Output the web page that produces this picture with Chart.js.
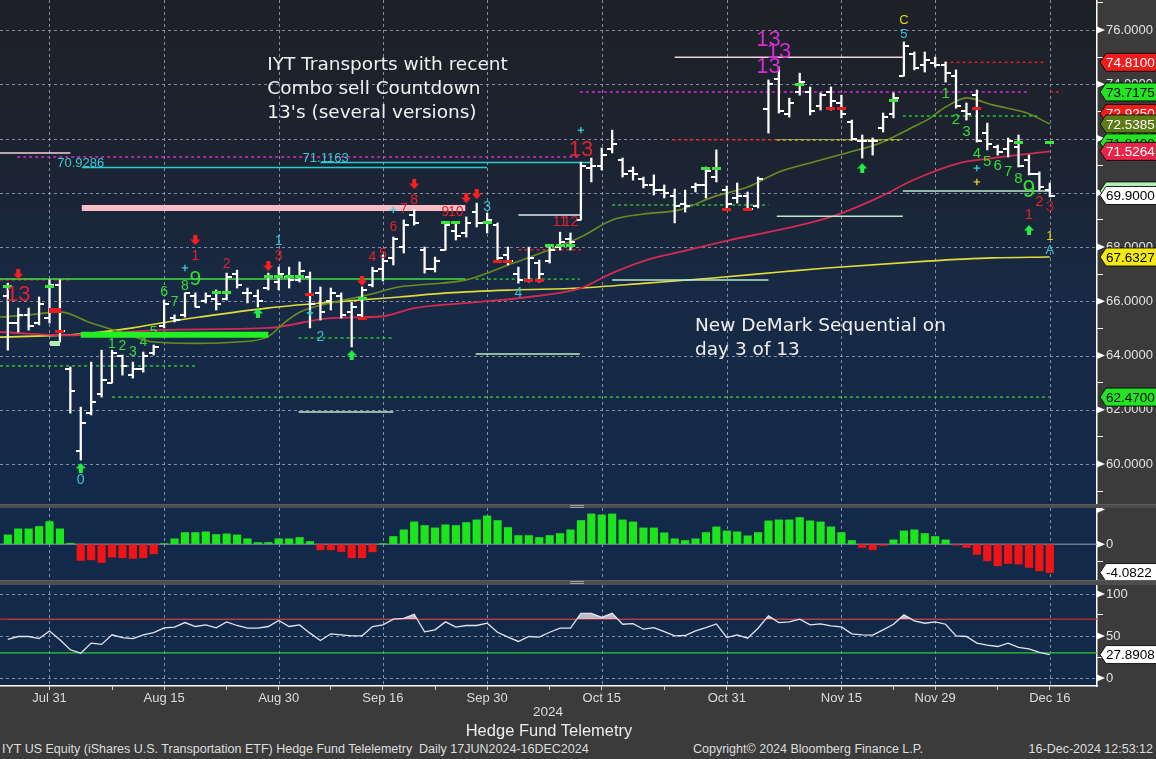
<!DOCTYPE html>
<html>
<head>
<meta charset="utf-8">
<title>IYT Transports – Hedge Fund Telemetry</title>
<script src="https://cdn.jsdelivr.net/npm/chart.js@4.4.1/dist/chart.umd.min.js"></script>
<style>
  html, body { margin:0; padding:0; width:1156px; height:759px; overflow:hidden; background:#3b3b3b; }
  canvas { position:absolute; left:0; display:block; }
  .band { position:absolute; left:0; width:1156px; background:#4d4d4d; border-top:1px solid #5c5c5c; box-sizing:border-box; }
  .grip { position:absolute; left:570px; width:14px; height:1px; background:#a0a0a0; }
  .t { position:absolute; white-space:nowrap; color:#dedede; font-family:"Liberation Sans", Arial, sans-serif; line-height:1; }
</style>
</head>
<body>
<canvas id="priceCanvas" width="1156" height="504" style="top:0"></canvas>
<div class="band" style="top:504px;height:4px"></div>
<div class="grip" style="top:505px"></div><div class="grip" style="top:507px"></div>
<canvas id="histCanvas" width="1156" height="72" style="top:508px"></canvas>
<div class="band" style="top:580px;height:5px"></div>
<div class="grip" style="top:581px"></div><div class="grip" style="top:583px"></div>
<canvas id="oscCanvas" width="1156" height="122" style="top:585px"></canvas>
<div class="t" style="left:548px;top:705px;font-size:13.5px;transform:translateX(-50%)">2024</div>
<div class="t" style="left:549px;top:722px;font-size:16.5px;transform:translateX(-50%);color:#ececec">Hedge Fund Telemetry</div>
<div class="t" style="left:2px;top:743px;font-size:12.5px">IYT US Equity (iShares U.S. Transportation ETF) Hedge Fund Telelemetry&nbsp; Daily 17JUN2024-16DEC2024</div>
<div class="t" style="left:693px;top:743px;font-size:12.5px">Copyright© 2024 Bloomberg Finance L.P.</div>
<div class="t" style="right:3px;top:743px;font-size:12.5px">16-Dec-2024 12:53:12</div>

<script>
// ---------- daily price bars, index 0 = 25 Jul 2024, index 100 = 16 Dec 2024 ----------
const openP = [66.20,65.20,65.50,65.20,65.40,66.60,63.50,60.50,61.90,62.60,
  63.00,64.00,63.30,63.50,64.10,65.10,65.40,65.50,66.20,66.00,
  66.10,66.10,67.00,66.30,66.20,66.50,66.70,66.90,66.80,66.90,
  66.30,66.00,66.20,65.60,65.50,66.60,67.20,67.60,68.00,69.20,
  67.90,67.20,67.90,68.60,68.50,69.30,68.90,68.80,67.70,67.00,
  66.80,67.40,67.50,68.00,68.30,69.00,70.90,71.00,71.60,71.20,
  70.80,70.50,70.30,70.10,69.90,69.60,70.20,70.30,70.60,70.10,
  69.80,69.90,69.50,73.10,74.20,72.90,73.70,73.70,73.20,73.70,
  73.30,72.60,71.90,71.90,72.40,72.90,74.30,75.10,74.70,74.80,
  74.70,74.30,73.00,73.60,72.20,71.70,71.60,71.70,71.20,70.70,
  70.10];
const highP = [66.67,65.75,65.75,66.16,66.79,66.79,63.58,62.10,63.76,64.20,
  64.20,64.02,63.76,64.13,64.39,66.05,65.50,66.31,66.31,66.31,
  66.42,67.04,67.15,66.49,66.42,67.04,67.26,67.26,67.45,67.08,
  66.53,66.49,66.31,65.97,66.53,67.26,67.71,68.37,69.00,69.37,
  68.00,67.63,68.89,68.89,69.11,69.62,69.25,68.89,68.00,67.26,
  68.00,67.52,68.07,68.55,68.52,71.13,71.28,71.65,72.31,71.28,
  70.95,70.58,70.66,70.29,70.14,70.10,70.36,70.95,71.58,70.25,
  70.36,70.03,70.58,74.16,74.64,73.49,74.41,73.90,73.68,73.90,
  73.60,72.68,72.13,72.02,72.94,73.68,75.56,75.19,75.19,75.00,
  74.82,74.53,73.31,73.79,72.57,71.76,72.02,72.13,71.39,70.77,
  70.36];
const lowP = [64.20,64.87,64.94,65.13,65.20,64.50,61.88,60.15,61.81,62.47,
  62.99,63.28,63.17,63.39,64.02,65.02,65.24,65.42,65.79,65.94,
  65.68,66.05,66.49,65.94,65.79,66.42,66.42,66.49,66.71,65.02,
  65.31,65.68,65.38,64.32,65.38,66.53,66.75,67.34,67.78,68.81,
  67.04,67.08,67.89,68.26,68.37,68.74,68.52,67.45,67.34,66.67,
  66.71,66.71,67.41,67.89,67.89,69.00,70.40,70.84,71.47,70.58,
  70.47,70.18,69.92,69.81,68.89,69.29,70.03,69.81,70.40,69.37,
  69.62,69.37,69.44,72.20,72.94,72.79,73.60,72.87,73.05,73.05,
  72.76,71.94,71.28,71.39,72.24,72.76,74.30,74.53,74.45,74.64,
  74.08,73.12,72.68,71.87,71.58,71.39,71.32,70.95,70.66,70.10,
  69.85];
const closeP = [65.20,65.50,65.10,65.90,66.60,64.90,62.70,61.50,62.30,63.10,
  64.10,63.60,63.50,64.00,64.30,65.90,65.30,66.30,65.80,66.20,
  65.90,66.90,66.60,66.30,66.00,66.90,67.00,66.80,67.10,65.90,
  65.60,66.30,65.50,65.80,66.40,67.10,67.50,68.30,68.80,68.90,
  67.20,67.50,68.80,68.40,68.90,68.90,69.00,67.60,67.50,66.80,
  67.60,67.00,67.90,68.20,68.20,71.00,71.00,71.40,71.80,70.70,
  70.70,70.30,70.10,70.00,69.50,69.50,70.30,70.80,70.90,69.60,
  69.90,69.40,70.50,74.00,73.00,73.30,74.10,73.00,73.60,73.40,
  72.90,72.00,71.90,71.90,72.80,73.50,75.40,74.60,74.90,74.70,
  74.40,73.20,72.90,71.90,71.80,71.50,71.90,71.00,70.70,70.20,
  69.90];

// ---------- moving averages: [bar index, value] ----------
const maShort = [[-0.75,65.42],[2,65.5],[5,65.61],[8,65.2],[11,64.85],[14,64.5],[18,64.45],[22,64.5],
  [25,64.7],[26.5,65.2],[28,65.6],[31,65.94],[34.5,66.23],[37.5,66.53],[40,66.62],[44,66.79],
  [48.5,67.41],[52,67.9],[55,68.37],[58,69.0],[61,69.22],[64.5,69.37],[67.7,69.85],[71,70.21],
  [74,70.77],[77,71.1],[80.5,71.47],[83.7,71.83],[85,72.06],[87,72.45],[88.2,72.68],[90,73.16],
  [92,73.5],[94.5,73.24],[97.8,72.94],[100,72.5385]];
const maMid = [[-0.75,64.87],[6,64.75],[15,64.95],[25,65.02],[31,65.38],[36,65.45],[39,65.75],
  [45,65.97],[50,66.16],[55,66.49],[58,67.04],[61.3,67.52],[64.5,67.82],[69.3,68.26],[74,68.63],
  [79,69.11],[83.7,69.85],[86.9,70.47],[91.4,71.1],[94.5,71.28],[100,71.5264]];
const maLong = [[-0.75,64.68],[7,64.79],[12,65.02],[15.3,65.24],[18.4,65.42],[24.9,65.75],[31.2,65.97],
  [37.6,66.16],[42.2,66.31],[48.5,66.42],[55,66.49],[61.3,66.67],[67.7,66.86],[74.1,67.08],
  [78.6,67.23],[88.2,67.48],[94.5,67.6],[100,67.6327]];

// ---------- lower panels ----------
const histVals = [1.34,2.2,2.2,2.54,3.25,2.2,0.14,-2.34,-2.25,-2.63,
  -1.87,-1.96,-2.06,-1.96,-1.39,0.05,0.77,1.67,1.67,1.77,
  1.39,1.48,1.34,0.77,0.24,0.24,0.77,0.77,0.96,0.38,
  -0.81,-0.81,-1.05,-1.96,-1.96,-1.1,0.02,1.1,2.06,3.2,
  2.68,2.34,2.78,2.68,3.11,3.49,4.07,3.4,2.39,1.24,
  1.24,0.96,1.24,1.53,2.06,3.4,4.35,4.21,4.35,3.49,
  3.2,2.34,2.34,1.63,0.77,0.53,0.77,1.67,2.49,1.91,
  1.77,1.2,1.67,3.35,3.49,3.49,3.83,3.35,3.2,2.49,
  1.67,0.53,-0.48,-0.81,-0.19,0.62,1.91,2.06,1.53,1.1,
  0.62,-0.14,-0.48,-1.48,-2.39,-3.11,-2.78,-2.87,-3.35,-3.83,
  -4.0822];
const rsiVals = [46,49.4,49.4,47,56,45.5,33.6,29.6,41.5,40,
  51.4,48,47,51.4,54,59.7,60.5,66,61.3,63.2,
  59.7,66.8,62.5,59.3,59.3,61.3,68.4,61.3,63.2,53.4,
  44.7,52.6,51.4,50.2,50.2,61.3,63.2,70,71.1,75.9,
  55,57.3,66.8,60.5,62.5,62.5,65.2,54.5,48.6,43.5,
  49.4,48.6,54.5,59.3,59.3,77,77,72.3,77,64,
  64.8,58.1,60,55.3,50.2,50.6,56.1,60,64.4,48.2,
  51.4,47.4,59.3,73.9,66,66.8,70,63.2,64.4,62,
  60.9,52.6,51.4,51,57.3,64,75.1,68,65.2,66.8,
  64,50.2,49.4,41.5,39.1,37.5,41.5,36.4,34.8,30.4,
  27.8908];
const rsiUpper = 70;
const rsiLower = 30;

// ---------- time axis ----------
const dateLabels = ['Jul 31','Aug 15','Aug 30','Sep 16','Sep 30','Oct 15','Oct 31','Nov 15','Nov 29','Dec 16'];
const dateIdx = [4,15,26,36,46,57,69,80,89,100];
const minorDateIdx = [10,21,31,41,52,63,75,85,95];

// ---------- TD levels: [style, from index, to index, price] ----------
const levelSegs = [
  ['pinkSolid',-0.75,6.0,71.47], ['magentaDot',0.9,55,71.32],
  ['cyan',7.1,46,70.9286], ['cyan',30,55.9,71.1163],
  ['pinkThick',7.1,43.9,69.44], ['white',49,55,69.18], ['redDot',49,55,67.9],
  ['green',-0.75,43.9,66.82], ['redDot',-0.75,6.2,66.79], ['greenDot',44.9,54.9,66.82],
  ['greenThick',7.0,25.0,64.77], ['greenDot',-0.75,18.0,63.62], ['greenDot',27.9,37.0,64.65],
  ['greenDot',10,100,62.47], ['mint',27.9,37.0,61.92], ['mint',44.9,54.9,64.06],
  ['mint',58,73,66.79], ['greenDot',58,73,69.55], ['magentaDot',54.9,98.1,73.7175],
  ['pinkSolid',64,85.9,75.0], ['redDot',63.8,73.8,71.95], ['yellowDot',73.8,85.9,71.95],
  ['redDot',89.9,99.7,74.81], ['greenDot',85.9,98.8,72.83], ['mint',85.9,100,70.07],
  ['mint',73.8,85.9,69.14], ['redDot',100,101.2,73.7175]
];
const levelCaptions = [[7.0,70.9286],[30.5,71.1163]];

// ---------- TD counts: [index, price, text, colour key, font px] ----------
const tdCounts = [
  [1,66.23,'13','r',22], [18,67.67,'1','r',14], [21,67.38,'2','r',14], [26,67.67,'3','r',14],
  [26,68.22,'1','c',14], [7,59.41,'0','c',14],
  [10,64.43,'1','g',14], [11,64.35,'2','g',14], [12,64.13,'3','g',14], [13,64.5,'4','g',14],
  [14,64.87,'5','g',14], [15,66.34,'6','g',14], [16,65.97,'7','g',14], [17,66.56,'8','g',14],
  [18,66.82,'9','g',21], [30,64.68,'2','c',14],
  [35,67.63,'4','r',14], [36,67.74,'5','r',14], [37,68.74,'6','r',14], [38,69.40,'7','r',14],
  [39,69.73,'8','r',14], [42,69.29,'9','r',14], [43,69.29,'10','r',14],
  [46,69.48,'3','c',14], [49,66.31,'4','c',14],
  [53,68.92,'11','r',14], [54,68.92,'12','r',14], [55,71.58,'13','r',22],
  [73,75.63,'13','m',22], [74,75.19,'13','m',22], [73,74.64,'13','m',22],
  [86,76.37,'C','y',13], [86,75.85,'5','c',13],
  [90,73.64,'1','g',15], [91,72.68,'2','g',15], [92,72.24,'3','g',15], [93,71.43,'4','g',15],
  [94,71.13,'5','g',15], [95,70.99,'6','g',15], [96,70.77,'7','g',15], [97,70.51,'8','g',15],
  [98,70.07,'9','g',23], [98,69.18,'1','r',15], [99,69.66,'2','r',15], [100,69.48,'3','dr',15],
  [100,68.41,'1','y',13], [100,67.86,'A','c',13]
];

// ---------- signal markers: [index, price] ----------
const sellArrows = [[1,67.0],[18,68.26],[25,67.3],[34,66.75],[39,70.32],[44,69.81],[45,69.95]];
const buyArrows = [[7,59.86],[24,65.57],[33,64.02],[82,70.91],[98,68.63]];
const greenTicks = [[0,66.53],[4,66.53],[20,66.31],[21,66.31],[25,66.9],[26,66.9],[27,66.9],[28,66.9],
  [34,66.12],[42,68.89],[43,68.89],[46,68.89],[52,68.04],[53,68.04],[54,68.04],[67,70.88],[68,70.88],
  [76,74.01],[85,73.42],[97,71.84],[100,71.84]];
const redTicks = [[5,64.9],[29,66.27],[34,65.35],[47,67.48],[48,67.48],[50,66.75],[51,66.75],
  [69,69.40],[71,69.40],[79,73.09],[80,73.09],[93,73.09]];
const redBlocks = [[4.5,65.68]];
const mintBlocks = [[4.5,64.46]];
const cyanPlus = [[17,67.23],[29,65.57],[37,69.37],[55,72.31],[93,70.91]];
const yellowPlus = [[93,70.40]];

// ---------- last-value tags on the price axis: [value, background, text colour] ----------
const priceTags = [
  [74.81,'#ee1c1c','#ffffff'], [73.7175,'#22e422','#000000'], [72.925,'#ee1c1c','#ffffff'],
  [72.5385,'#5d7b14','#ffffff'], [71.84,'#22e422','#000000'], [71.5264,'#e8244a','#ffffff'],
  [70.07,'#b6efb6','#000000'], [69.90,'#ffffff','#000000'], [67.6327,'#f4ea12','#000000'],
  [62.47,'#22e422','#000000']
];

const notes = [
  { at: [24.9, 74.71], lines: ['IYT Transports with recent', 'Combo sell Countdown', "13's (several versions)"] },
  { at: [65.95, 65.09], lines: ['New DeMark Sequential on', 'day 3 of 13'] }
];

// ---------- layout constants ----------
const AXIS_W = 59;
const X_MIN = -0.75, X_MAX = 104.53;
const P_MIN = 58.53, P_MAX = 77.106;
const H_MIN = -5.15, H_MAX = 5.2;
const R_MIN = -9.5, R_MAX = 110.7;
const FONT = '"Liberation Sans", Arial, sans-serif';
const GRID = 'rgba(158,166,190,0.8)';
const PAGE_GRAY = '#3b3b3b';
const NAVY = '#13294a';
const LAYOUT = { padding: 0, autoPadding: false };

const levelStyle = {
  pinkSolid: { color: '#f2d4da', width: 1.5 },
  magentaDot: { color: '#d42ad4', width: 1.5, dash: [3, 3] },
  cyan: { color: '#2ccad4', width: 1.5 },
  pinkThick: { color: '#f7bec6', width: 6 },
  white: { color: '#e6e6ee', width: 1.5 },
  redDot: { color: '#e02020', width: 1.5, dash: [3, 3] },
  green: { color: '#3ee03e', width: 1.5 },
  greenDot: { color: '#2ed82e', width: 1.3, dash: [3, 3] },
  greenThick: { color: '#22f022', width: 6 },
  mint: { color: '#bde8cc', width: 1.5 },
  yellowDot: { color: '#d8d820', width: 1.5, dash: [3, 3] }
};
const tdColours = { r: '#e0222e', dr: '#b81c2a', g: '#34dc34', c: '#34c6d2', m: '#d22ed2', y: '#e8d41c' };

// ---------- small drawing helpers ----------
function flatMark(w, h, color) {
  const c = document.createElement('canvas'); c.width = w; c.height = h;
  const g = c.getContext('2d'); g.fillStyle = color; g.fillRect(0, 0, w, h); return c;
}
function barTick(side) {
  const c = document.createElement('canvas'); c.width = 10; c.height = 2;
  const g = c.getContext('2d'); g.fillStyle = '#ffffff';
  if (side === 'left') g.fillRect(0, 0, 5, 2); else g.fillRect(5, 0, 5, 2);
  return c;
}
function blockArrow(dir, color) {
  const c = document.createElement('canvas'); c.width = 10; c.height = 10;
  const g = c.getContext('2d'); g.fillStyle = color;
  if (dir === 'down') {
    g.fillRect(3, 0, 4, 5);
    g.beginPath(); g.moveTo(0, 4.5); g.lineTo(10, 4.5); g.lineTo(5, 10); g.closePath(); g.fill();
  } else {
    g.beginPath(); g.moveTo(5, 0); g.lineTo(10, 5.5); g.lineTo(0, 5.5); g.closePath(); g.fill();
    g.fillRect(3, 5, 4, 5);
  }
  return c;
}
function pts(list) { return list.map(([x, y]) => ({ x, y })); }

function paintPanel(chart, fill) {
  const { ctx, chartArea: a, width, height } = chart;
  ctx.save();
  ctx.fillStyle = PAGE_GRAY; ctx.fillRect(0, 0, width, height);
  ctx.fillStyle = fill; ctx.fillRect(a.left, a.top, a.right - a.left, a.bottom - a.top);
  ctx.restore();
}
function gridV(chart) {
  const { ctx, chartArea: a, scales: { x } } = chart;
  ctx.save(); ctx.strokeStyle = GRID; ctx.lineWidth = 1; ctx.setLineDash([3, 3]);
  dateIdx.forEach(i => {
    const px = Math.round(x.getPixelForValue(i)) + 0.5;
    ctx.beginPath(); ctx.moveTo(px, a.top); ctx.lineTo(px, a.bottom); ctx.stroke();
  });
  ctx.restore();
}
function gridH(chart, values) {
  const { ctx, chartArea: a, scales: { y } } = chart;
  ctx.save(); ctx.strokeStyle = GRID; ctx.lineWidth = 1; ctx.setLineDash([3, 3]);
  values.forEach(v => {
    const py = Math.round(y.getPixelForValue(v)) + 0.5;
    ctx.beginPath(); ctx.moveTo(a.left, py); ctx.lineTo(a.right, py); ctx.stroke();
  });
  ctx.restore();
}
function wedges(chart, values) {
  const { ctx, chartArea: a, scales: { y } } = chart;
  ctx.save(); ctx.fillStyle = '#ffffff';
  values.forEach(v => {
    const py = y.getPixelForValue(v);
    ctx.beginPath(); ctx.moveTo(a.right, py - 3.5); ctx.lineTo(a.right + 8, py); ctx.lineTo(a.right, py + 3.5); ctx.closePath(); ctx.fill();
  });
  ctx.restore();
}
function valueTag(chart, value, bg, fg) {
  const { ctx, chartArea: a, scales: { y } } = chart;
  const x0 = a.right + 3, py = y.getPixelForValue(value), h = 18, nose = 6, w = 64;
  ctx.save();
  ctx.beginPath();
  ctx.moveTo(x0, py); ctx.lineTo(x0 + nose, py - h / 2); ctx.lineTo(x0 + w, py - h / 2);
  ctx.lineTo(x0 + w, py + h / 2); ctx.lineTo(x0 + nose, py + h / 2); ctx.closePath();
  ctx.fillStyle = bg; ctx.fill();
  ctx.lineWidth = 1; ctx.strokeStyle = 'rgba(0,0,0,0.85)'; ctx.stroke();
  ctx.fillStyle = fg; ctx.font = `13.5px ${FONT}`; ctx.textAlign = 'left'; ctx.textBaseline = 'middle';
  ctx.fillText(value.toFixed(4), x0 + nose, py + 1);
  ctx.restore();
}
function fixedY(width) {
  return s => { s.width = width; s.paddingTop = 0; s.paddingBottom = 0; };
}

// ---------- price panel ----------
const priceData = [];
[[maShort, '#6b8b22', 1.6], [maMid, '#d22a52', 1.8], [maLong, '#e2dc3a', 1.6]].forEach(([list, col, w]) => {
  priceData.push({ type: 'line', data: pts(list), borderColor: col, borderWidth: w, pointRadius: 0,
    cubicInterpolationMode: 'monotone', order: 60 });
});
levelSegs.forEach(([kind, from, to, v]) => {
  const s = levelStyle[kind];
  priceData.push({ type: 'line', data: [{ x: from, y: v }, { x: to, y: v }], borderColor: s.color,
    borderWidth: s.width, borderDash: s.dash || [], borderCapStyle: 'butt', pointRadius: 0, order: 50 });
});
priceData.push({ type: 'bar', data: highP.map((h, i) => ({ x: i, y: [lowP[i], h] })),
  backgroundColor: '#ffffff', barThickness: 1.6, grouped: false, order: 30 });
priceData.push({ type: 'scatter', data: openP.map((v, i) => ({ x: i, y: v })), pointStyle: barTick('left'), pointRadius: 3, order: 30 });
priceData.push({ type: 'scatter', data: closeP.map((v, i) => ({ x: i, y: v })), pointStyle: barTick('right'), pointRadius: 3, order: 30 });
priceData.push({ type: 'scatter', data: pts(greenTicks), pointStyle: flatMark(9, 3, '#3ee43e'), pointRadius: 3, order: 20 });
priceData.push({ type: 'scatter', data: pts(redTicks), pointStyle: flatMark(9, 3, '#e81e1e'), pointRadius: 3, order: 20 });
priceData.push({ type: 'scatter', data: pts(redBlocks), pointStyle: flatMark(12, 5, '#e81e1e'), pointRadius: 3, order: 20 });
priceData.push({ type: 'scatter', data: pts(mintBlocks), pointStyle: flatMark(10, 5, '#b4ecb4'), pointRadius: 3, order: 20 });
priceData.push({ type: 'scatter', data: pts(cyanPlus), pointStyle: 'cross', pointRadius: 3.2, borderWidth: 1.3,
  borderColor: '#3ccfd8', backgroundColor: '#3ccfd8', order: 15 });
priceData.push({ type: 'scatter', data: pts(yellowPlus), pointStyle: 'cross', pointRadius: 3.2, borderWidth: 1.3,
  borderColor: '#e8d41c', backgroundColor: '#e8d41c', order: 15 });
priceData.push({ type: 'scatter', data: pts(sellArrows), pointStyle: blockArrow('down', '#ff1f1f'), pointRadius: 4, order: 10 });
priceData.push({ type: 'scatter', data: pts(buyArrows), pointStyle: blockArrow('up', '#22ee44'), pointRadius: 4, order: 10 });

const priceGridVals = [60, 62, 64, 66, 68, 70, 72, 74, 76];

const priceDecor = {
  id: 'priceDecor',
  beforeDraw(chart) {
    const { ctx, chartArea: a, width, height } = chart;
    ctx.save();
    ctx.fillStyle = PAGE_GRAY; ctx.fillRect(0, 0, width, height);
    const g = ctx.createLinearGradient(0, a.top, 0, a.bottom);
    g.addColorStop(0, '#1e2026'); g.addColorStop(0.3, '#1c2330');
    g.addColorStop(0.58, '#172944'); g.addColorStop(1, '#13294a');
    ctx.fillStyle = g; ctx.fillRect(a.left, a.top, a.right - a.left, a.bottom - a.top);
    ctx.restore();
  },
  beforeDatasetsDraw(chart) { gridH(chart, priceGridVals); gridV(chart); },
  afterDatasetsDraw(chart) {
    const { ctx, scales: { x, y } } = chart;
    ctx.save();
    ctx.font = `13px ${FONT}`; ctx.fillStyle = '#3cc8d2'; ctx.textAlign = 'center'; ctx.textBaseline = 'alphabetic';
    levelCaptions.forEach(([i, v]) => ctx.fillText(v.toFixed(4), x.getPixelForValue(i), y.getPixelForValue(v) - 1));
    ctx.textBaseline = 'middle';
    tdCounts.forEach(([i, p, t, c, s]) => {
      ctx.font = `${s}px ${FONT}`; ctx.fillStyle = tdColours[c];
      ctx.fillText(t, x.getPixelForValue(i), y.getPixelForValue(p));
    });
    ctx.font = '18.5px "DejaVu Sans", Verdana, sans-serif'; ctx.fillStyle = '#f0f0f0'; ctx.textAlign = 'left';
    notes.forEach(n => {
      const px = x.getPixelForValue(n.at[0]), py = y.getPixelForValue(n.at[1]);
      n.lines.forEach((line, k) => ctx.fillText(line, px, py + k * 24));
    });
    ctx.restore();
  },
  afterDraw(chart) {
    wedges(chart, priceGridVals);
    priceTags.forEach(([v, bg, fg]) => valueTag(chart, v, bg, fg));
  }
};

new Chart(document.getElementById('priceCanvas'), {
  type: 'scatter',
  data: { datasets: priceData },
  options: {
    responsive: false, animation: false, events: [],
    layout: LAYOUT,
    plugins: { legend: { display: false }, tooltip: { enabled: false } },
    scales: {
      x: { type: 'linear', min: X_MIN, max: X_MAX, display: false, offset: false, grid: { offset: false } },
      y: {
        type: 'linear', position: 'right', min: P_MIN, max: P_MAX, bounds: 'data',
        afterFit: fixedY(AXIS_W),
        afterBuildTicks: s => { const t = []; for (let v = 59; v <= 77; v++) t.push({ value: v }); s.ticks = t; },
        ticks: { autoSkip: false, padding: 3, color: '#e2e2e2', font: { family: FONT, size: 13 },
          callback: v => (v % 2 === 0 ? v.toFixed(4) : '') },
        grid: { drawOnChartArea: false, drawTicks: true, tickLength: 6, tickColor: '#ffffff', tickWidth: 1 },
        border: { display: true, color: '#ffffff', width: 1.5 }
      }
    }
  },
  plugins: [priceDecor]
});

// ---------- oscillator histogram ----------
const histDecor = {
  id: 'histDecor',
  beforeDraw(chart) { paintPanel(chart, NAVY); },
  beforeDatasetsDraw(chart) { gridV(chart); },
  afterDraw(chart) {
    wedges(chart, [5, 0]);
    valueTag(chart, histVals[histVals.length - 1], '#ffffff', '#000000');
  }
};
new Chart(document.getElementById('histCanvas'), {
  type: 'scatter',
  data: {
    datasets: [
      { type: 'line', data: [{ x: X_MIN, y: 0 }, { x: X_MAX, y: 0 }], borderColor: '#9aa4b6', borderWidth: 1, pointRadius: 0, order: 5 },
      { type: 'bar', data: histVals.map((v, i) => ({ x: i, y: v })), barThickness: 7.5, grouped: false,
        backgroundColor: histVals.map(v => (v >= 0 ? '#1ee41e' : '#f01414')), order: 1 }
    ]
  },
  options: {
    responsive: false, animation: false, events: [],
    layout: LAYOUT,
    plugins: { legend: { display: false }, tooltip: { enabled: false } },
    scales: {
      x: { type: 'linear', min: X_MIN, max: X_MAX, display: false, offset: false, grid: { offset: false } },
      y: {
        type: 'linear', position: 'right', min: H_MIN, max: H_MAX, bounds: 'data',
        afterFit: fixedY(AXIS_W),
        afterBuildTicks: s => { s.ticks = [5, 0, -2.5].map(v => ({ value: v })); },
        ticks: { autoSkip: false, padding: 3, color: '#e2e2e2', font: { family: FONT, size: 13 },
          callback: v => (v === 0 ? '0' : '') },
        grid: { drawOnChartArea: false, drawTicks: true, tickLength: 6, tickColor: '#ffffff', tickWidth: 1 },
        border: { display: true, color: '#ffffff', width: 1.5 }
      }
    }
  },
  plugins: [histDecor]
});

// ---------- RSI-style oscillator with time axis ----------
const oscDecor = {
  id: 'oscDecor',
  beforeDraw(chart) { paintPanel(chart, NAVY); },
  beforeDatasetsDraw(chart) { gridH(chart, [0, 50, 100]); gridV(chart); },
  afterDraw(chart) {
    wedges(chart, [0, 50, 100]);
    valueTag(chart, rsiVals[rsiVals.length - 1], '#ffffff', '#000000');
  }
};
new Chart(document.getElementById('oscCanvas'), {
  type: 'scatter',
  data: {
    datasets: [
      { type: 'line', data: [{ x: X_MIN, y: rsiUpper }, { x: X_MAX, y: rsiUpper }], borderColor: '#d42a2a', borderWidth: 1.3, pointRadius: 0, order: 5 },
      { type: 'line', data: [{ x: X_MIN, y: rsiLower }, { x: X_MAX, y: rsiLower }], borderColor: '#2ccc2c', borderWidth: 1.3, pointRadius: 0, order: 5 },
      { type: 'line', data: rsiVals.map((v, i) => ({ x: i, y: v })), borderColor: '#e4e4ec', borderWidth: 1.3,
        pointRadius: 0, tension: 0, order: 1,
        fill: { target: { value: rsiUpper }, above: 'rgba(214,214,224,0.85)', below: 'rgba(0,0,0,0)' } }
    ]
  },
  options: {
    responsive: false, animation: false, events: [],
    layout: LAYOUT,
    plugins: { legend: { display: false }, tooltip: { enabled: false } },
    scales: {
      x: {
        type: 'linear', position: 'bottom', min: X_MIN, max: X_MAX, offset: false, bounds: 'data',
        afterFit: s => { s.height = 21; s.paddingLeft = 0; s.paddingRight = 0; },
        afterBuildTicks: s => { s.ticks = dateIdx.concat(minorDateIdx).sort((a, b) => a - b).map(v => ({ value: v })); },
        ticks: { autoSkip: false, maxRotation: 0, minRotation: 0, padding: 1, color: '#dcdcdc',
          font: { family: FONT, size: 13 },
          callback: v => { const k = dateIdx.indexOf(v); return k >= 0 ? dateLabels[k] : ''; } },
        grid: { offset: false, drawOnChartArea: false, drawTicks: true, tickLength: 4, tickColor: '#cfcfcf', tickWidth: 1 },
        border: { display: true, color: '#ffffff', width: 1.5 }
      },
      y: {
        type: 'linear', position: 'right', min: R_MIN, max: R_MAX, bounds: 'data',
        afterFit: fixedY(AXIS_W),
        afterBuildTicks: s => { s.ticks = [100, 75, 50, 25, 0].map(v => ({ value: v })); },
        ticks: { autoSkip: false, padding: 3, color: '#e2e2e2', font: { family: FONT, size: 13 },
          callback: v => (v % 50 === 0 ? String(v) : '') },
        grid: { drawOnChartArea: false, drawTicks: true, tickLength: 6, tickColor: '#ffffff', tickWidth: 1 },
        border: { display: true, color: '#ffffff', width: 1.5 }
      }
    }
  },
  plugins: [oscDecor]
});
</script>
</body>
</html>
